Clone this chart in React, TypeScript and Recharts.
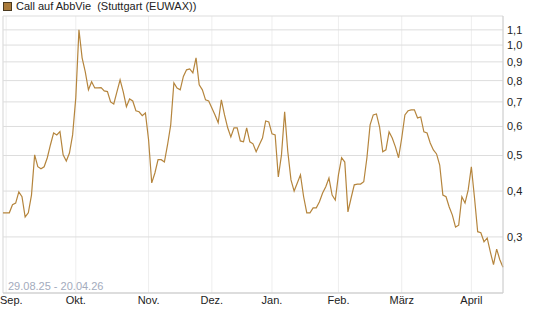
import React from 'react';
import { LineChart, Line, XAxis, YAxis, CartesianGrid, ReferenceLine } from 'recharts';

// Kurse je Handelstag (Stuttgart / EUWAX), 29.08.25 - 20.04.26
const aug = [0.349];
const sep = [0.349, 0.349, 0.367, 0.371, 0.398, 0.386, 0.34, 0.349, 0.39, 0.502, 0.466, 0.46, 0.466, 0.493, 0.535, 0.576, 0.569, 0.581, 0.502, 0.483, 0.508, 0.569];
const okt = [0.718, 1.1, 0.923, 0.845, 0.755, 0.794, 0.764, 0.764, 0.766, 0.75, 0.747, 0.7, 0.691, 0.745, 0.804, 0.745, 0.679, 0.713, 0.704, 0.662, 0.658, 0.642, 0.653];
const nov = [0.552, 0.421, 0.448, 0.487, 0.487, 0.48, 0.535, 0.606, 0.789, 0.764, 0.755, 0.821, 0.856, 0.861, 0.84, 0.923, 0.779, 0.755, 0.709, 0.704];
const dez = [0.674, 0.645, 0.614, 0.709, 0.645, 0.595, 0.562, 0.595, 0.595, 0.548, 0.545, 0.595, 0.545, 0.538, 0.512, 0.535, 0.558, 0.621, 0.617];
const jan = [0.573, 0.569, 0.437, 0.502, 0.658, 0.512, 0.429, 0.4, 0.421, 0.443, 0.386, 0.349, 0.349, 0.36, 0.36, 0.374, 0.395, 0.411, 0.434, 0.39, 0.378];
const feb = [0.443, 0.493, 0.48, 0.351, 0.383, 0.416, 0.418, 0.418, 0.424, 0.493, 0.606, 0.645, 0.649, 0.598, 0.512, 0.518, 0.58, 0.558, 0.528, 0.493];
const mar = [0.558, 0.645, 0.662, 0.666, 0.666, 0.633, 0.637, 0.58, 0.576, 0.541, 0.518, 0.505, 0.471, 0.39, 0.386, 0.362, 0.344, 0.319, 0.323, 0.386, 0.371, 0.403];
const apr = [0.466, 0.383, 0.31, 0.308, 0.291, 0.298, 0.273, 0.252, 0.278, 0.26, 0.248];

const months = [sep, okt, nov, dez, jan, feb, mar, apr];
const monthLabels = ['Sep.', 'Okt.', 'Nov.', 'Dez.', 'Jan.', 'Feb.', 'März', 'April'];
const yTicks = [0.3, 0.4, 0.5, 0.6, 0.7, 0.8, 0.9, 1.0, 1.1];

const values = [...aug, ...months.flat()];
const data = values.map((v, i) => ({ i, v }));

// erster Handelstag jedes Monats
const monthStarts: number[] = [];
let pos = aug.length;
months.forEach((m) => {
	monthStarts.push(pos);
	pos += m.length;
});

const font = '"Liberation Sans", Arial, sans-serif';
const lineColor = '#B5853D';

// Monatslabel, am linken Rand nicht abgeschnitten
const MonthTick = ({ x, y, payload }: any) => {
	const label = monthLabels[monthStarts.indexOf(payload.value)] ?? '';
	const left = x < 12;
	return (
		<text
			x={left ? 0 : x}
			y={y}
			dy='0.71em'
			textAnchor={left ? 'start' : 'middle'}
			fontSize={11}
			fill='#222'
			fontFamily={font}
		>
			{label}
		</text>
	);
};

export default function App() {
	return (
		<div style={{ position: 'absolute', left: 0, top: 0, width: 545, height: 327, background: '#fff', fontFamily: font }}>
			<div style={{ position: 'absolute', left: 3, top: 0, height: 12, display: 'flex', alignItems: 'center', fontSize: 11, color: '#222', whiteSpace: 'pre' }}>
				<span style={{ display: 'inline-block', width: 7, height: 7, background: '#A97A3B', border: '1px solid #4a3a20', marginRight: 4 }} />
				<span>{'Call auf AbbVie  (Stuttgart (EUWAX))'}</span>
			</div>
			<LineChart width={545} height={327} data={data} margin={{ top: 16, right: 0, left: 3, bottom: 14 }}>
				<CartesianGrid horizontal={false} stroke='#eeeeee' />
				<CartesianGrid vertical={false} stroke='#dddddd' />
				<ReferenceLine x={0} stroke='#dddddd' />
				<XAxis
					dataKey='i'
					type='number'
					domain={[0, values.length - 1]}
					ticks={monthStarts}
					interval={0}
					height={20}
					axisLine={{ stroke: '#cccccc' }}
					tickLine={false}
					tickSize={3}
					tickMargin={0}
					tick={<MonthTick />}
				/>
				<YAxis
					orientation='right'
					scale='log'
					type='number'
					domain={[0.211, 1.2]}
					allowDataOverflow
					ticks={yTicks}
					interval={0}
					tickFormatter={(v) => v.toFixed(1).replace('.', ',')}
					width={42}
					axisLine={{ stroke: '#cccccc' }}
					tickLine={false}
					tickSize={3}
					tickMargin={1}
					tick={{ fontSize: 11, fill: '#222', fontFamily: font, textAnchor: 'start' }}
				/>
				<Line type='linear' dataKey='v' stroke={lineColor} strokeWidth={1.2} dot={false} isAnimationActive={false} />
			</LineChart>
			<div style={{ position: 'absolute', left: 8, top: 280, fontSize: 11, color: '#a3abbd' }}>29.08.25 - 20.04.26</div>
		</div>
	);
}
